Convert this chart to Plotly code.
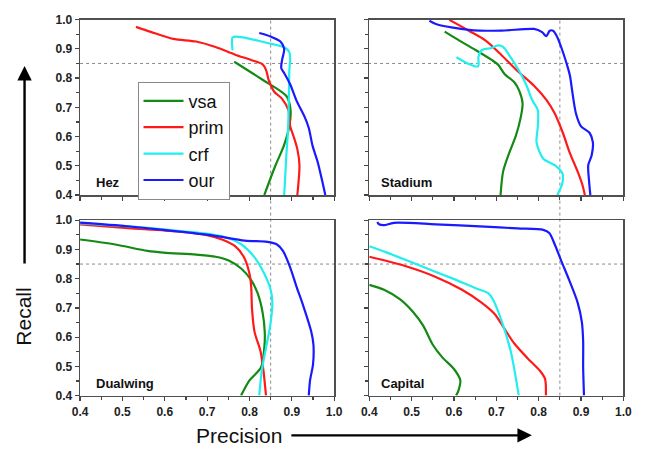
import plotly.graph_objects as go

# ---------------- data ----------------
METHODS = ["vsa", "prim", "crf", "our"]
COLORS = {"vsa": "#138a13", "prim": "#ff1a1a", "crf": "#22eeee", "our": "#1a1aff"}
PANELS = ["Hez", "Stadium", "Dualwing", "Capital"]
THRESHOLD = 0.85
TICK_VALUES = [0.4, 0.5, 0.6, 0.7, 0.8, 0.9, 1.0]

# Hez
HEZ_VSA_P = [0.764, 0.830, 0.888, 0.897, 0.894, 0.881, 0.861, 0.835]
HEZ_VSA_R = [0.856, 0.795, 0.737, 0.690, 0.635, 0.568, 0.500, 0.400]
HEZ_PRIM_P = [0.532, 0.567, 0.620, 0.674, 0.720, 0.766, 0.804, 0.831, 0.839, 0.846, 0.858, 0.877, 0.892, 0.896, 0.904, 0.913, 0.918, 0.913]
HEZ_PRIM_R = [0.975, 0.958, 0.934, 0.925, 0.906, 0.880, 0.862, 0.847, 0.828, 0.790, 0.754, 0.729, 0.690, 0.635, 0.601, 0.557, 0.502, 0.400]
HEZ_CRF_P = [0.760, 0.760, 0.770, 0.796, 0.842, 0.881, 0.894, 0.896, 0.894, 0.893, 0.891, 0.887, 0.882]
HEZ_CRF_R = [0.895, 0.939, 0.942, 0.936, 0.920, 0.906, 0.889, 0.867, 0.823, 0.734, 0.624, 0.535, 0.400]
HEZ_OUR_P = [0.823, 0.850, 0.873, 0.882, 0.877, 0.875, 0.882, 0.896, 0.911, 0.930, 0.940, 0.949, 0.961, 0.972, 0.979]
HEZ_OUR_R = [0.954, 0.942, 0.925, 0.900, 0.862, 0.834, 0.817, 0.779, 0.723, 0.668, 0.629, 0.568, 0.513, 0.446, 0.400]

# Stadium
STA_VSA_P = [0.578, 0.612, 0.651, 0.689, 0.704, 0.720, 0.743, 0.754, 0.762, 0.758, 0.746, 0.731, 0.716, 0.710]
STA_VSA_R = [0.959, 0.929, 0.896, 0.862, 0.846, 0.813, 0.785, 0.757, 0.713, 0.668, 0.602, 0.546, 0.480, 0.400]
STA_PRIM_P = [0.589, 0.635, 0.674, 0.712, 0.750, 0.789, 0.819, 0.838, 0.857, 0.873, 0.892, 0.903, 0.909]
STA_PRIM_R = [0.999, 0.962, 0.929, 0.879, 0.824, 0.774, 0.724, 0.679, 0.613, 0.546, 0.480, 0.436, 0.400]
STA_CRF_P = [0.606, 0.631, 0.657, 0.658, 0.666, 0.689, 0.704, 0.716, 0.735, 0.754, 0.770, 0.785, 0.798, 0.798, 0.795, 0.811, 0.838, 0.856, 0.856, 0.844]
STA_CRF_R = [0.871, 0.851, 0.840, 0.874, 0.896, 0.903, 0.912, 0.907, 0.868, 0.824, 0.779, 0.724, 0.690, 0.635, 0.580, 0.524, 0.502, 0.474, 0.441, 0.400]
STA_OUR_P = [0.542, 0.559, 0.635, 0.712, 0.789, 0.808, 0.818, 0.826, 0.834, 0.844, 0.857, 0.869, 0.874, 0.879, 0.888, 0.900, 0.920, 0.928, 0.925, 0.917, 0.919, 0.922]
STA_OUR_R = [0.996, 0.984, 0.965, 0.962, 0.968, 0.957, 0.943, 0.962, 0.962, 0.940, 0.890, 0.835, 0.807, 0.757, 0.679, 0.635, 0.613, 0.580, 0.535, 0.502, 0.447, 0.400]

# Dualwing
DUA_VSA_P = [0.400, 0.483, 0.559, 0.597, 0.674, 0.720, 0.751, 0.781, 0.804, 0.819, 0.831, 0.836, 0.835, 0.827, 0.800, 0.780]
DUA_VSA_R = [0.934, 0.917, 0.895, 0.889, 0.882, 0.875, 0.862, 0.834, 0.795, 0.751, 0.684, 0.618, 0.563, 0.496, 0.452, 0.400]
DUA_PRIM_P = [0.400, 0.521, 0.636, 0.697, 0.735, 0.766, 0.787, 0.800, 0.804, 0.806, 0.812, 0.826, 0.833, 0.839]
DUA_PRIM_R = [0.986, 0.972, 0.961, 0.950, 0.934, 0.911, 0.873, 0.817, 0.773, 0.696, 0.618, 0.552, 0.485, 0.400]
DUA_CRF_P = [0.400, 0.521, 0.636, 0.735, 0.781, 0.812, 0.835, 0.850, 0.854, 0.849, 0.839, 0.829, 0.823]
DUA_CRF_R = [0.989, 0.978, 0.963, 0.945, 0.917, 0.873, 0.817, 0.762, 0.718, 0.640, 0.563, 0.485, 0.400]
DUA_OUR_P = [0.400, 0.483, 0.597, 0.712, 0.789, 0.842, 0.865, 0.879, 0.896, 0.911, 0.927, 0.946, 0.951, 0.950, 0.943, 0.940]
DUA_OUR_R = [0.992, 0.983, 0.967, 0.948, 0.930, 0.926, 0.917, 0.895, 0.839, 0.773, 0.707, 0.618, 0.574, 0.507, 0.452, 0.400]

# Capital
CAP_VSA_P = [0.400, 0.435, 0.473, 0.504, 0.527, 0.550, 0.573, 0.600, 0.615, 0.611, 0.605]
CAP_VSA_R = [0.779, 0.762, 0.729, 0.685, 0.640, 0.574, 0.530, 0.491, 0.452, 0.419, 0.400]
CAP_PRIM_P = [0.400, 0.481, 0.557, 0.619, 0.665, 0.696, 0.719, 0.742, 0.773, 0.803, 0.815, 0.817]
CAP_PRIM_R = [0.875, 0.845, 0.806, 0.762, 0.718, 0.679, 0.629, 0.579, 0.529, 0.485, 0.457, 0.400]
CAP_CRF_P = [0.400, 0.442, 0.519, 0.596, 0.650, 0.680, 0.692, 0.711, 0.734, 0.753]
CAP_CRF_R = [0.911, 0.889, 0.845, 0.801, 0.768, 0.751, 0.729, 0.662, 0.552, 0.400]
CAP_OUR_P = [0.419, 0.423, 0.435, 0.458, 0.557, 0.673, 0.750, 0.811, 0.825, 0.838, 0.853, 0.872, 0.892, 0.902, 0.905, 0.905, 0.907]
CAP_OUR_R = [0.994, 0.986, 0.983, 0.991, 0.986, 0.978, 0.972, 0.967, 0.956, 0.917, 0.862, 0.795, 0.718, 0.651, 0.585, 0.496, 0.400]

SERIES = {
    "Hez": [(HEZ_VSA_P, HEZ_VSA_R), (HEZ_PRIM_P, HEZ_PRIM_R), (HEZ_CRF_P, HEZ_CRF_R), (HEZ_OUR_P, HEZ_OUR_R)],
    "Stadium": [(STA_VSA_P, STA_VSA_R), (STA_PRIM_P, STA_PRIM_R), (STA_CRF_P, STA_CRF_R), (STA_OUR_P, STA_OUR_R)],
    "Dualwing": [(DUA_VSA_P, DUA_VSA_R), (DUA_PRIM_P, DUA_PRIM_R), (DUA_CRF_P, DUA_CRF_R), (DUA_OUR_P, DUA_OUR_R)],
    "Capital": [(CAP_VSA_P, CAP_VSA_R), (CAP_PRIM_P, CAP_PRIM_R), (CAP_CRF_P, CAP_CRF_R), (CAP_OUR_P, CAP_OUR_R)],
}

# ---------------- layout ----------------
W, H = 647, 453
FONT = "Liberation Sans, Arial, sans-serif"
COLS = [(74 / W, 335 / W), (371 / W, 632 / W)]
ROWS = [(1 - 194 / H, 1 - 13 / H), (1 - 401 / H, 1 - 220 / H)]
LABEL_X = [0.054, 0.038]

fig = go.Figure()

for i, name in enumerate(PANELS):
    row, col = divmod(i, 2)
    sfx = "" if i == 0 else str(i + 1)
    for m, (p, r) in zip(METHODS, SERIES[name]):
        fig.add_trace(go.Scatter(
            x=p, y=r, mode="lines", name=m,
            line=dict(color=COLORS[m], width=2.2, shape="spline", smoothing=0.8),
            xaxis="x" + sfx, yaxis="y" + sfx,
            showlegend=(i == 0), hoverinfo="skip",
        ))
    axcommon = dict(
        range=[0.4, 1.0], tickvals=TICK_VALUES, tickformat=".1f",
        ticks="outside", ticklen=4, tickwidth=1.2, tickcolor="#444",
        minor=dict(dtick=0.05, ticks="outside", ticklen=3, tickcolor="#444"),
        showline=True, linecolor="#505050", linewidth=1.5, mirror=True,
        showgrid=False, zeroline=False, fixedrange=True,
        tickfont=dict(family=FONT, size=12, color="#222", weight="bold"),
    )
    fig.update_layout({
        "xaxis" + sfx: dict(axcommon, domain=list(COLS[col]), anchor="y" + sfx,
                            showticklabels=(row == 1)),
        "yaxis" + sfx: dict(axcommon, domain=list(ROWS[row]), anchor="x" + sfx,
                            showticklabels=(col == 0)),
    })
    fig.add_annotation(
        text="<b>%s</b>" % name, xref="x%s domain" % sfx, yref="y%s domain" % sfx,
        x=LABEL_X[col], y=0.015, xanchor="left", yanchor="bottom", showarrow=False,
        font=dict(family=FONT, size=13, color="#111"),
    )

# threshold guide lines
dot = dict(color="#8a8a8a", width=1, dash="dot")
for ax in ["x", "x2"]:
    fig.add_shape(type="line", xref=ax, yref="paper", x0=THRESHOLD, x1=THRESHOLD,
                  y0=ROWS[1][0], y1=ROWS[0][1], line=dot, layer="below")
for ay in ["y", "y3"]:
    fig.add_shape(type="line", xref="paper", yref=ay, x0=COLS[0][0], x1=COLS[1][1],
                  y0=THRESHOLD, y1=THRESHOLD, line=dot, layer="below")

# axis titles with arrows
fig.add_annotation(text="Recall", xref="paper", yref="paper", x=16 / W, y=1 - 320 / H,
                   xanchor="center", yanchor="middle",
                   textangle=-90, showarrow=False, font=dict(family=FONT, size=21, color="#111"))
fig.add_annotation(text="", xref="paper", yref="paper", x=17 / W, y=1 - 61 / H,
                   ax=0, ay=199, showarrow=True, arrowhead=2, arrowsize=1.2,
                   arrowwidth=2.4, arrowcolor="#000")
fig.add_annotation(text="Precision", xref="paper", yref="paper", x=237 / W, y=1 - 442 / H,
                   xanchor="center", yanchor="middle",
                   showarrow=False, font=dict(family=FONT, size=21, color="#111"))
fig.add_annotation(text="", xref="paper", yref="paper", x=538 / W, y=1 - 442 / H,
                   ax=-242, ay=0, showarrow=True, arrowhead=2, arrowsize=1.2,
                   arrowwidth=2.4, arrowcolor="#000")

fig.update_layout(
    width=W, height=H, margin=dict(l=0, r=0, t=0, b=0),
    paper_bgcolor="white", plot_bgcolor="white", hovermode=False,
    legend=dict(x=133 / W, y=1 - 77 / H, xanchor="left", yanchor="top",
                bgcolor="white", bordercolor="#888", borderwidth=1,
                font=dict(family=FONT, size=18, color="#111"),
                tracegroupgap=0, itemwidth=40),
)

fig.write_html(
    "out.html",
    config={"displayModeBar": False, "staticPlot": True},
    post_script="document.body.style.margin='0px';document.body.style.overflow='hidden';",
)
